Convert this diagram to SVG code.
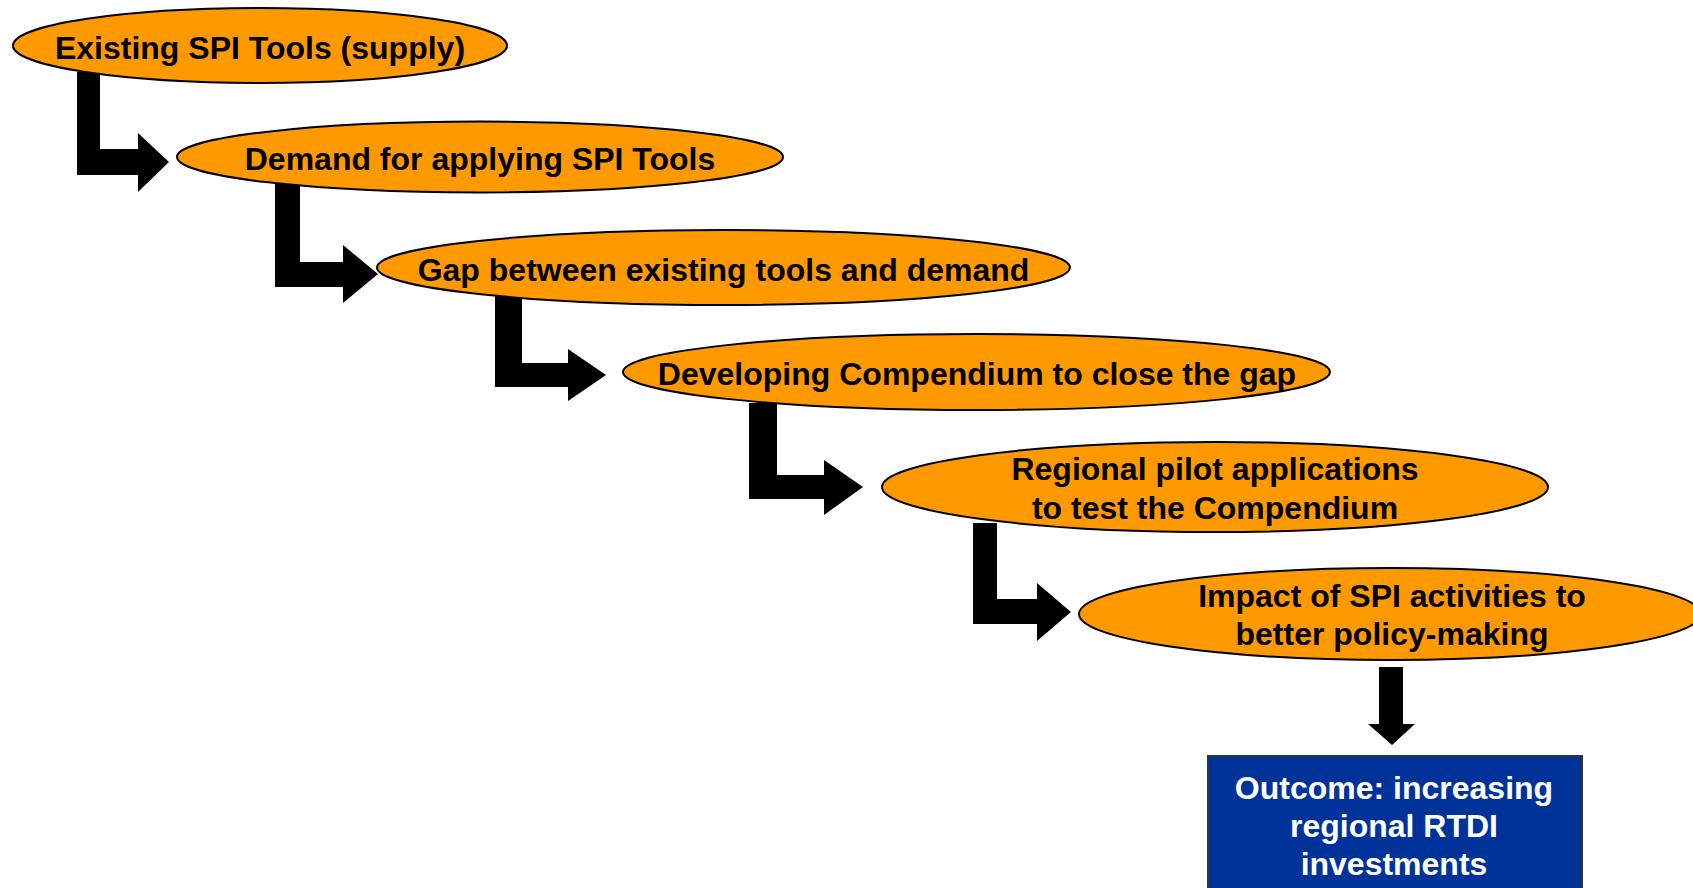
<svg xmlns="http://www.w3.org/2000/svg" width="1693" height="888" viewBox="0 0 1693 888">
<style>
.el{fill:#FF9900;stroke:#000;stroke-width:2}
.t{font-family:"Liberation Sans",Arial,sans-serif;font-weight:bold;font-size:32px;text-anchor:middle;fill:#000}
.w{fill:#fff}
.arr{fill:#000;stroke:none}
</style>
<rect width="1693" height="888" fill="#fff"/>
<g id="connectors">
<polygon class="arr" points="77,72 100,72 100,149 138,149 138,133 169,162 138,192 138,175 77,175"/>
<polygon class="arr" points="275,184 300,184 300,262 343,262 343,245 378,274 343,303 343,287 275,287"/>
<polygon class="arr" points="495,296 522,296 522,363 568,363 568,349 606,375 568,401 568,387 495,387"/>
<polygon class="arr" points="749,403 777,403 777,475 824,475 824,460 863,487 824,515 824,499 749,499"/>
<polygon class="arr" points="973,523 997,523 997,599 1037,599 1037,583 1071,612 1037,641 1037,624 973,624"/>
<polygon class="arr" points="1379,667 1403,667 1403,724 1415,724 1392,745 1368,724 1379,724"/>
</g>
<g id="n1">
<ellipse class="el" cx="260" cy="45.5" rx="247" ry="37.5"/>
<text class="t" x="260" y="58.5">Existing SPI Tools (supply)</text>
</g>
<g id="n2">
<ellipse class="el" cx="480" cy="157" rx="303" ry="35.5"/>
<text class="t" x="480" y="170">Demand for applying SPI Tools</text>
</g>
<g id="n3">
<ellipse class="el" cx="723.5" cy="267.5" rx="346.5" ry="37.5"/>
<text class="t" x="723.5" y="281">Gap between existing tools and demand</text>
</g>
<g id="n4">
<ellipse class="el" cx="976.5" cy="372" rx="353.5" ry="38"/>
<text class="t" x="977" y="385">Developing Compendium to close the gap</text>
</g>
<g id="n5">
<ellipse class="el" cx="1215" cy="487" rx="333" ry="45"/>
<text class="t" x="1215" y="480">Regional pilot applications</text>
<text class="t" x="1215" y="519">to test the Compendium</text>
</g>
<g id="n6">
<ellipse class="el" cx="1390" cy="614" rx="311" ry="46"/>
<text class="t" x="1392" y="607">Impact of SPI activities to</text>
<text class="t" x="1392" y="645">better policy-making</text>
</g>
<g id="n7">
<rect x="1208" y="756" width="374" height="140" fill="#003399" stroke="#333" stroke-width="2"/>
<text class="t w" x="1394" y="799">Outcome: increasing</text>
<text class="t w" x="1394" y="837">regional RTDI</text>
<text class="t w" x="1394" y="875">investments</text>
</g>
</svg>
